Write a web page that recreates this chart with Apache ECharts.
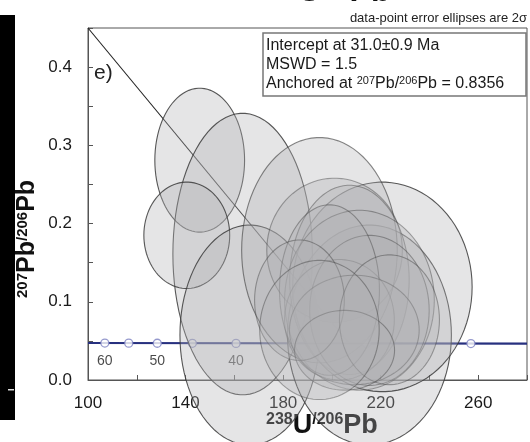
<!DOCTYPE html>
<html><head><meta charset="utf-8">
<script src="https://cdn.jsdelivr.net/npm/echarts@6/dist/echarts.min.js"></script>
<style>html,body{margin:0;padding:0;background:#fff}#c{width:530px;height:442px}</style>
</head><body><div id="c"></div>
<script>
// Error ellipses (centre, semi-axes in data units)
const ellCX = [145.8, 163.4, 140.5, 166.3, 215.4, 220.7, 194.9, 201.1, 207.2, 211.3, 203.1, 215.4, 199.0, 209.2, 186.7, 223.6, 205.2, 194.9];
const ellCY = [0.281, 0.161, 0.185, 0.0575, 0.0575, 0.119, 0.166, 0.166, 0.128, 0.102, 0.077, 0.089, 0.115, 0.064, 0.102, 0.077, 0.038, 0.064];
const ellRX = [18.4, 28.6, 17.6, 28.6, 33.6, 36.8, 31.9, 27.8, 24.5, 30.7, 22.5, 24.5, 20.5, 26.6, 18.4, 20.5, 20.5, 24.5];
const ellRY = [0.092, 0.180, 0.068, 0.1406, 0.1406, 0.134, 0.144, 0.092, 0.121, 0.115, 0.077, 0.096, 0.109, 0.070, 0.077, 0.083, 0.051, 0.089];
const ellDark = [1, 1, 1, 1, 1, 1, 0.6, 0.3, 0.3, 0.3, 0.3, 0.3, 0.3, 0.3, 0.3, 0.3, 0.3, 0.3];

// Concordia curve (age markers, Ma)
const concAges = [60, 55, 50, 45, 40, 35, 30, 25];
const concX = [106.9, 116.7, 128.4, 142.8, 160.7, 183.6, 214.2, 257.0];
const concY = [0.0472, 0.0471, 0.0470, 0.0469, 0.0468, 0.0467, 0.0466, 0.0466];
const concLineX = [100, 280];
const concLineY = [0.0473, 0.0465];
const concLabelAges = [60, 50, 40];

// Regression (discordia) line end points
const discX = [100, 207];
const discY = [0.45, 0.047];

const xMin = 100, xMax = 280, xStep = 20;
const yMin = 0, yMax = 0.45, yStep = 0.05;

const ellData = ellCX.map((x, i) => [x, ellCY[i], ellRX[i], ellRY[i], ellDark[i]]);

const chart = echarts.init(document.getElementById('c'), null, {renderer: 'canvas'});
chart.setOption({
  animation: false,
  grid: {left: 88, right: 2, top: 28, bottom: 62, show: true, borderColor: '#555', borderWidth: 1},
  xAxis: {
    type: 'value', min: xMin, max: xMax, interval: xStep,
    axisLine: {lineStyle: {color: '#555'}},
    axisTick: {inside: true, length: 5, lineStyle: {color: '#555'}},
    splitLine: {show: false},
    axisLabel: {fontSize: 17, color: '#1a1a1a', margin: 15, fontFamily: 'Liberation Sans',
      formatter: v => ((v - 100) % 40 === 0 ? String(v) : '')}
  },
  yAxis: {
    type: 'value', min: yMin, max: yMax, interval: yStep,
    axisLine: {lineStyle: {color: '#555'}},
    axisTick: {inside: true, length: 5, lineStyle: {color: '#555'}},
    splitLine: {show: false},
    axisLabel: {fontSize: 17, color: '#1a1a1a', margin: 16, fontFamily: 'Liberation Sans',
      formatter: v => (Math.abs(Math.round(v * 10) - v * 10) < 1e-6 ? v.toFixed(1) : '')}
  },
  graphic: [
    {type: 'rect', z: 0, shape: {x: 0, y: 15, width: 15, height: 405}, style: {fill: '#000'}},
    {type: 'rect', z: 0, shape: {x: 8, y: 389, width: 6, height: 1.5}, style: {fill: '#ddd'}},
    {type: 'text', z: 0, left: 298, top: -24, style: {text: 'U - Pb', font: 'bold 32px Liberation Sans', fill: '#111'}},
    {type: 'text', z: 0, right: 3, top: 12, style: {text: 'data-point error ellipses are 2σ', font: '13px Liberation Sans', fill: '#222'}},
    {type: 'text', z: 0, left: 94, top: 63, style: {text: 'e)', font: '21px Liberation Sans', fill: '#222'}},
    {type: 'rect', z: 5, shape: {x: 263, y: 33, width: 263, height: 63}, style: {fill: '#fff', stroke: '#777', lineWidth: 1.5}},
    {type: 'text', z: 6, left: 266, top: 38, style: {text: 'Intercept at 31.0±0.9 Ma', font: '16px Liberation Sans', fill: '#1a1a1a'}},
    {type: 'text', z: 6, left: 266, top: 57, style: {text: 'MSWD = 1.5', font: '16px Liberation Sans', fill: '#1a1a1a'}},
    {type: 'text', z: 6, left: 266, top: 75, style: {
      text: 'Anchored at {s|207}Pb/{s|206}Pb = 0.8356',
      font: '16px Liberation Sans', fill: '#1a1a1a',
      rich: {s: {fontSize: 11, fontFamily: 'Liberation Sans', verticalAlign: 'top', fill: '#1a1a1a', padding: [0, 0, 6, 0]}}
    }},
    {type: 'text', z: 0, x: 15, y: 298, rotation: Math.PI / 2,
      style: {text: '{s|207}{b|Pb}{s|/206}{b|Pb}', fill: '#111',
        rich: {s: {fontSize: 15, fontWeight: 'bold', fontFamily: 'Liberation Sans', verticalAlign: 'top', padding: [0, 0, 8, 0]},
               b: {fontSize: 25, fontWeight: 'bold', fontFamily: 'Liberation Sans'}}}},
    {type: 'text', z: 0, left: 266, top: 412,
      style: {text: '{s|238}{b|U}{s|/206}{b|Pb}', fill: '#111',
        rich: {s: {fontSize: 16, fontWeight: 'bold', fontFamily: 'Liberation Sans', verticalAlign: 'top', padding: [0, 0, 10, 0]},
               b: {fontSize: 27, fontWeight: 'bold', fontFamily: 'Liberation Sans'}}}}
  ],
  series: [
    {type: 'line', z: 2, silent: true, symbol: 'none',
      data: concLineX.map((x, i) => [x, concLineY[i]]),
      lineStyle: {color: '#27307f', width: 2.2}},
    {type: 'scatter', z: 2, silent: true, symbol: 'circle', symbolSize: 8,
      itemStyle: {color: '#fff', borderColor: '#7a7fc0', borderWidth: 1.3},
      data: concX.map((x, i) => ({value: [x, concY[i]],
        label: {show: concLabelAges.indexOf(concAges[i]) >= 0, formatter: String(concAges[i]), position: 'bottom', distance: 6,
          fontSize: 14, color: '#1a1a1a', fontFamily: 'Liberation Sans'}}))},
    {type: 'line', z: 2, silent: true, symbol: 'none',
      data: discX.map((x, i) => [x, discY[i]]),
      lineStyle: {color: '#222', width: 1.1}},
    {type: 'custom', z: 3, silent: true, clip: false,
      data: ellData,
      renderItem: function (params, api) {
        const cx = api.value(0), cy = api.value(1), rx = api.value(2), ry = api.value(3), d = api.value(4);
        const pts = [];
        for (let k = 0; k < 90; k++) {
          const t = k / 90 * Math.PI * 2;
          pts.push(api.coord([cx + rx * Math.cos(t), cy + ry * Math.sin(t)]));
        }
        const a = 0.25 + 0.6 * d;
        return {type: 'polygon', shape: {points: pts},
          style: {fill: 'rgba(175,175,178,0.33)', stroke: 'rgba(60,60,60,' + a.toFixed(2) + ')', lineWidth: 1.1}};
      }}
  ]
});
</script></body></html>
